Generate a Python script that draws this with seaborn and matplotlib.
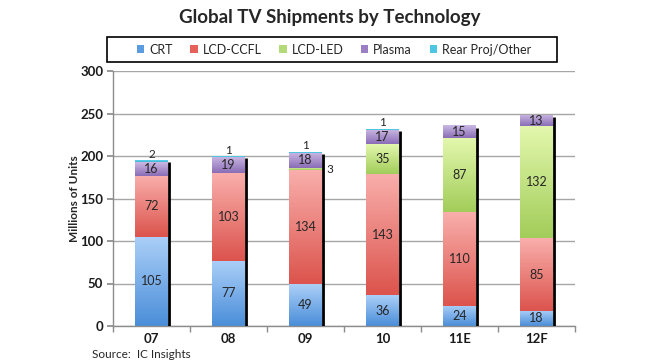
import matplotlib
matplotlib.use("Agg")
import matplotlib.pyplot as plt
import numpy as np
import seaborn as sns
from matplotlib.colors import LinearSegmentedColormap
from matplotlib.patches import Patch, Rectangle

years = ["07", "08", "09", "10", "11E", "12F"]
crt = [105, 77, 49, 36, 24, 18]
lcd_ccfl = [72, 103, 134, 143, 110, 85]
lcd_led = [0, 0, 3, 35, 87, 132]
plasma = [16, 19, 18, 17, 15, 13]
rear_proj = [2, 1, 1, 1, 0, 0]

series_names = ["CRT", "LCD-CCFL", "LCD-LED", "Plasma", "Rear Proj/Other"]
series_values = [crt, lcd_ccfl, lcd_led, plasma, rear_proj]
# (top colour, bottom colour) of each gradient
grad_colors = [("#abcff8", "#4a8ed9"),
               ("#f9aeab", "#dc544d"),
               ("#e3f7ad", "#a2cd5a"),
               ("#cbb8e3", "#8a6db6"),
               ("#63d3ec", "#3bb8da")]
legend_colors = ["#5b9be0", "#e5625b", "#b4d978", "#9a7fc4", "#4dc6e4"]

sns.set_theme(style="white")
plt.rcParams["font.family"] = ["Lato", "DejaVu Sans"]

fig = plt.figure(figsize=(6.6, 3.64), dpi=100)
ax = fig.add_axes([113 / 660, 1 - 326 / 364, 462 / 660, 255 / 364])

bar_w = 0.42
bottom = np.zeros(len(years))
for name, vals, (c_top, c_bot) in zip(series_names, series_values, grad_colors):
    n_before = len(ax.patches)
    sns.barplot(x=years, y=vals, bottom=bottom.copy(), color=c_bot, width=bar_w,
                errorbar=None, linewidth=0, saturation=1, ax=ax)
    cmap = LinearSegmentedColormap.from_list(name, [c_bot, c_top])
    grad = np.linspace(0, 1, 64).reshape(-1, 1)
    for p in ax.patches[n_before:]:
        if p.get_height() <= 0:
            continue
        x0, y0 = p.get_x(), p.get_y()
        im = ax.imshow(grad, extent=[x0, x0 + p.get_width(), y0, y0 + p.get_height()],
                       origin="lower", aspect="auto", cmap=cmap, zorder=2)
        im.set_clip_path(p)
    bottom += np.array(vals)

totals = bottom
xpos = np.arange(len(years))

# dark right-edge shadow of each stack
ax.vlines(xpos + bar_w / 2 + 0.012, 0, totals - 2.5, color="black", lw=2.0, zorder=3)

# value labels
bottom = np.zeros(len(years))
for name, vals in zip(series_names, series_values):
    for i, v in enumerate(vals):
        if v == 0:
            continue
        if name == "Rear Proj/Other":
            ax.text(xpos[i], bottom[i] + v + 0.5, str(v), ha="center", va="bottom",
                    fontsize=8.5, zorder=5)
        elif v < 5:
            ax.text(xpos[i] + bar_w / 2 + 0.06, bottom[i] + v / 2, str(v), ha="left",
                    va="center", fontsize=8.5, zorder=5)
        else:
            ax.text(xpos[i], bottom[i] + v / 2, str(v), ha="center", va="center",
                    fontsize=9, zorder=5)
    bottom += np.array(vals)

ax.set_xlim(-0.5, len(years) - 0.5)
ax.set_ylim(0, 300)
ax.set_yticks(range(0, 301, 50))
ax.yaxis.grid(True, color="#a6a6a6", lw=1)
ax.set_axisbelow(True)
for s in ["top", "right"]:
    ax.spines[s].set_visible(False)
for s in ["left", "bottom"]:
    ax.spines[s].set_color("#8c8c8c")
    ax.spines[s].set_linewidth(1)
ax.tick_params(axis="y", length=4, color="#8c8c8c", labelsize=9.5, pad=3, left=True)
ax.tick_params(axis="x", which="major", length=0, labelsize=9.5, pad=5)
ax.set_xticks(np.arange(len(years) + 1) - 0.5, minor=True)
ax.tick_params(axis="x", which="minor", length=4, color="#8c8c8c", bottom=True)
for lab in ax.get_xticklabels() + ax.get_yticklabels():
    lab.set_fontweight("bold")
    lab.set_color("#1a1a1a")
ax.set_xlabel("")
ax.set_ylabel("Millions of Units", fontsize=8.5, fontweight="bold")
ax.yaxis.set_label_coords(-0.072, 0.5)

# legend box drawn separately so the entries can sit closer together
fig.patches.append(Rectangle((107 / 660, 1 - 62 / 364), 450 / 660, 25 / 364,
                             transform=fig.transFigure, fill=False,
                             edgecolor="black", linewidth=1.2))
handles = [Patch(facecolor=c, edgecolor="none") for c in legend_colors]
fig.legend(handles, series_names, loc="center",
           bbox_to_anchor=(334 / 660, 1 - 49.5 / 364),
           ncol=5, frameon=False, fontsize=9,
           handlelength=0.6, handleheight=0.6, handletextpad=0.4,
           columnspacing=1.4, borderaxespad=0, borderpad=0)

fig.text(0.5, 1 - 18 / 364, "Global TV Shipments by Technology", ha="center",
         va="center", fontsize=13.5, fontweight="bold")
fig.text(92 / 660, 1 - 354 / 364, "Source:  IC Insights", ha="left", va="center",
         fontsize=8.5)

fig.savefig("out.png", dpi=100)
